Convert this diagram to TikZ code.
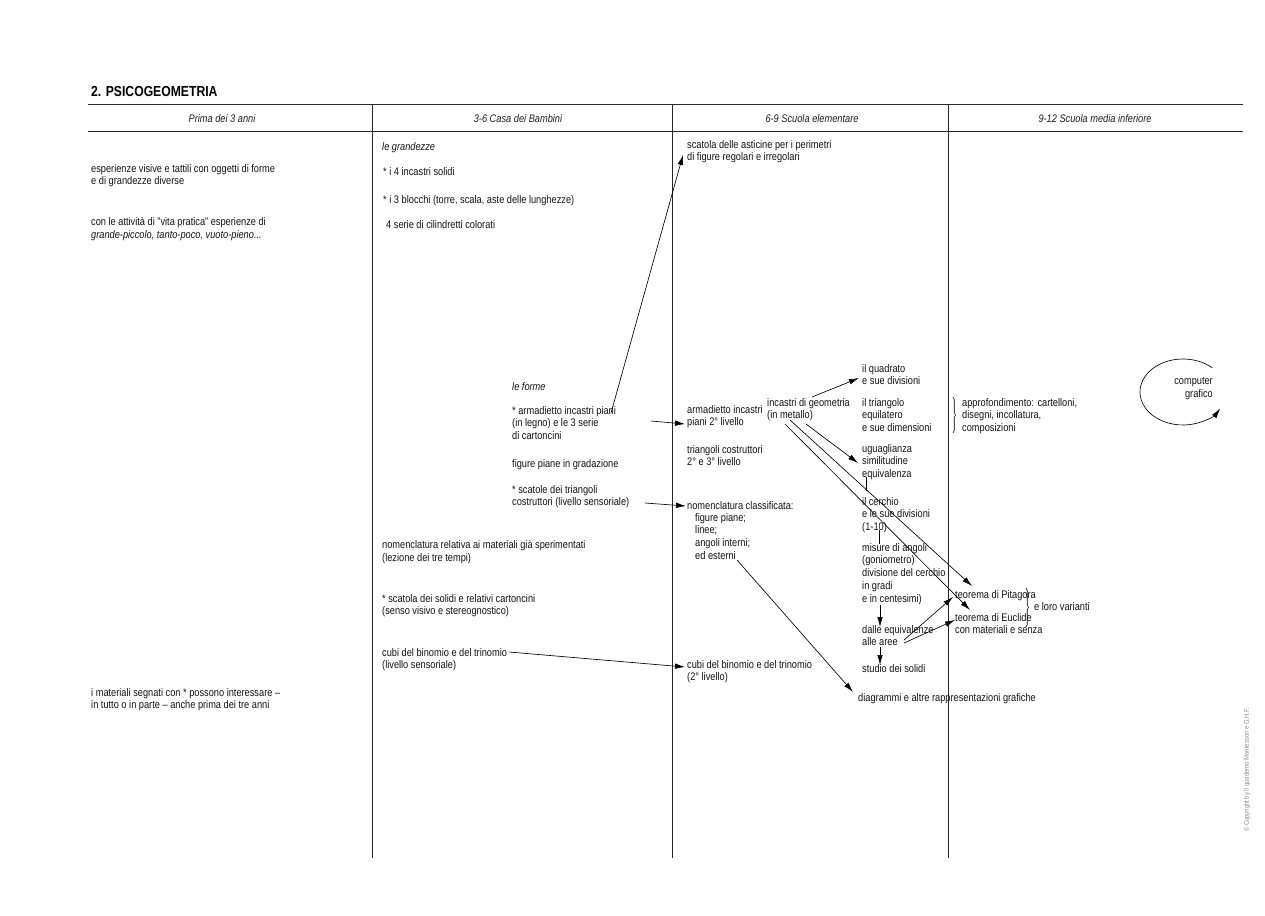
\documentclass[tikz,border=0pt]{standalone}
\usepackage{fontspec}
\setmainfont[FakeStretch=0.84]{Liberation Sans}
\usetikzlibrary{arrows.meta,decorations.pathreplacing}
\begin{document}
\begin{tikzpicture}[x=1pt,y=-1pt,
  txt/.style={anchor=north west,inner sep=0pt,align=left,
    font=\fontsize{11}{12.8}\selectfont,text=black!92,execute at begin node=\strut},
  itx/.style={txt,font=\fontsize{11}{12.8}\selectfont\itshape},
  head/.style={anchor=base,inner sep=0pt,font=\fontsize{11}{12.8}\selectfont\itshape,text=black!88},
  rule/.style={line width=0.8pt,draw=black!85},
  conn/.style={line width=0.65pt,draw=black},
  arr/.style={conn,-{Latex[length=10pt,width=5.5pt]}},
  brc/.style={line width=0.6pt,decorate,decoration={brace,amplitude=2.5pt}}]
\useasboundingbox[fill=white] (0,0) rectangle (1265,915);

% title and table rules
\node[anchor=base west,inner sep=0pt,font=\fontsize{14.5}{16}\selectfont\bfseries] (title) at (91,97) {2. PSICOGEOMETRIA};
\draw[rule] (88,104) -- (1243,104);
\draw[rule] (88,131) -- (1243,131);
\draw[rule] (372,104) -- (372,858);
\draw[rule] (672,104) -- (672,858);
\draw[rule] (948,104) -- (948,858);

\node[head] (h1) at (222,123) {Prima dei 3 anni};
\node[head] (h2) at (518,123) {3-6 Casa dei Bambini};
\node[head] (h3) at (812,123) {6-9 Scuola elementare};
\node[head] (h4) at (1095,123) {9-12 Scuola media inferiore};

% column 1
\node[txt] (c1a) at (91,164) {esperienze visive e tattili con oggetti di forme\\e di grandezze diverse};
\node[txt] (c1b) at (91,217) {con le attività di "vita pratica" esperienze di\\\textit{grande-piccolo, tanto-poco, vuoto-pieno...}};
\node[txt] (c1c) at (91,688) {i materiali segnati con * possono interessare –\\in tutto o in parte – anche prima dei tre anni};

% column 2
\node[itx] (c2a) at (382,141) {le grandezze};
\node[txt] (c2b) at (383,166) {* i 4 incastri solidi};
\node[txt] (c2c) at (383,194) {* i 3 blocchi (torre, scala, aste delle lunghezze)};
\node[txt] (c2d) at (386,219) {4 serie di cilindretti colorati};
\node[itx] (c2e) at (512,381) {le forme};
\node[txt] (c2f) at (512,406) {* armadietto incastri piani\\(in legno) e le 3 serie\\di cartoncini};
\node[txt] (c2g) at (512,458) {figure piane in gradazione};
\node[txt] (c2h) at (512,485) {* scatole dei triangoli\\costruttori (livello sensoriale)};
\node[txt] (c2i) at (382,540) {nomenclatura relativa ai materiali già sperimentati\\(lezione dei tre tempi)};
\node[txt] (c2j) at (382,594) {* scatola dei solidi e relativi cartoncini\\(senso visivo e stereognostico)};
\node[txt] (c2k) at (382,648) {cubi del binomio e del trinomio\\(livello sensoriale)};

% column 3
\node[txt] (c3a) at (687,140) {scatola delle asticine per i perimetri\\di figure regolari e irregolari};
\node[txt] (c3b) at (687,405) {armadietto incastri\\piani 2° livello};
\node[txt] (c3c) at (687,445) {triangoli costruttori\\2° e 3° livello};
\node[txt] (c3d) at (687,500) {nomenclatura classificata:};
\node[txt] (c3e) at (695,513) {figure piane;\\linee;\\angoli interni;\\ed esterni};
\node[txt] (c3f) at (687,660) {cubi del binomio e del trinomio\\(2° livello)};
\node[txt] (c3g) at (767,398) {incastri di geometria\\(in metallo)};
\node[txt] (c3h) at (862,364) {il quadrato\\e sue divisioni};
\node[txt] (c3i) at (862,398) {il triangolo\\equilatero\\e sue dimensioni};
\node[txt] (c3j) at (862,444) {uguaglianza\\similitudine\\equivalenza};
\node[txt] (c3k) at (862,497) {il cerchio\\e le sue divisioni\\(1-10)};
\node[txt] (c3l) at (862,543) {misure di angoli\\(goniometro)\\divisione del cerchio\\in gradi\\e in centesimi)};
\node[txt] (c3m) at (862,625) {dalle equivalenze\\alle aree};
\node[txt] (c3n) at (862,663) {studio dei solidi};
\node[txt] (c3o) at (858,692) {diagrammi e altre rappresentazioni grafiche};

% column 4
\node[txt] (c4a) at (955,589) {teorema di Pitagora};
\node[txt] (c4b) at (955,613) {teorema di Euclide\\con materiali e senza};
\node[txt] (c4c) at (1034,601) {e loro varianti};
\node[txt] (c4d) at (962,398) {approfondimento: cartelloni,\\disegni, incollatura,\\composizioni};
\node[txt,anchor=north east,align=right] (c4e) at (1213,377) {computer\\grafico};
\draw[brc] (1026,588) -- (1026,627);
\draw[brc] (953,397) -- (953,433);

% connector end points
\coordinate (s1) at (611,413);  \coordinate (t1) at (683,155);
\coordinate (s2) at (651,421);  \coordinate (t2) at (685,424);
\coordinate (s3) at (645,503);  \coordinate (t3) at (686,506);
\coordinate (s4) at (509,652);  \coordinate (t4) at (685,667);
\coordinate (s5) at (812,397);  \coordinate (t5) at (859,378);
\coordinate (s6) at (806,424);  \coordinate (t6) at (858,463);
\coordinate (s7) at (790,420);  \coordinate (t7) at (972,586);
\coordinate (s8) at (785,424);  \coordinate (t8) at (970,610);
\coordinate (s9) at (866,477);  \coordinate (t9) at (866,491);
\coordinate (s10) at (879,530); \coordinate (t10) at (879,544);
\coordinate (s11) at (880,605); \coordinate (t11) at (880,627);
\coordinate (s12) at (880,647); \coordinate (t12) at (880,665);
\coordinate (s13) at (904,640); \coordinate (t13) at (953,597);
\coordinate (s14) at (904,643); \coordinate (t14) at (955,620);
\coordinate (s15) at (737,560); \coordinate (t15) at (853,692);
\coordinate (cg) at (1183,392);

\draw[arr] (s1) -- (t1);
\draw[arr] (s2) -- (t2);
\draw[arr] (s3) -- (t3);
\draw[arr] (s4) -- (t4);
\draw[arr] (s5) -- (t5);
\draw[arr] (s6) -- (t6);
\draw[arr] (s7) -- (t7);
\draw[arr] (s8) -- (t8);
\draw[conn] (s9) -- (t9);
\draw[conn] (s10) -- (t10);
\draw[arr] (s11) -- (t11);
\draw[arr] (s12) -- (t12);
\draw[arr] (s13) -- (t13);
\draw[arr] (s14) -- (t14);
\draw[arr] (s15) -- (t15);
\draw[arr] ([shift={(47:43pt and 33pt)}]cg) arc[start angle=47,end angle=330,x radius=43pt,y radius=33pt];

% copyright
\node[rotate=90,inner sep=0pt,font=\fontsize{7}{8}\selectfont,text=black!45] (copy) at (1247,770) {© Copyright by Il quaderno Montessori e G.H.F.};
\end{tikzpicture}
\end{document}
